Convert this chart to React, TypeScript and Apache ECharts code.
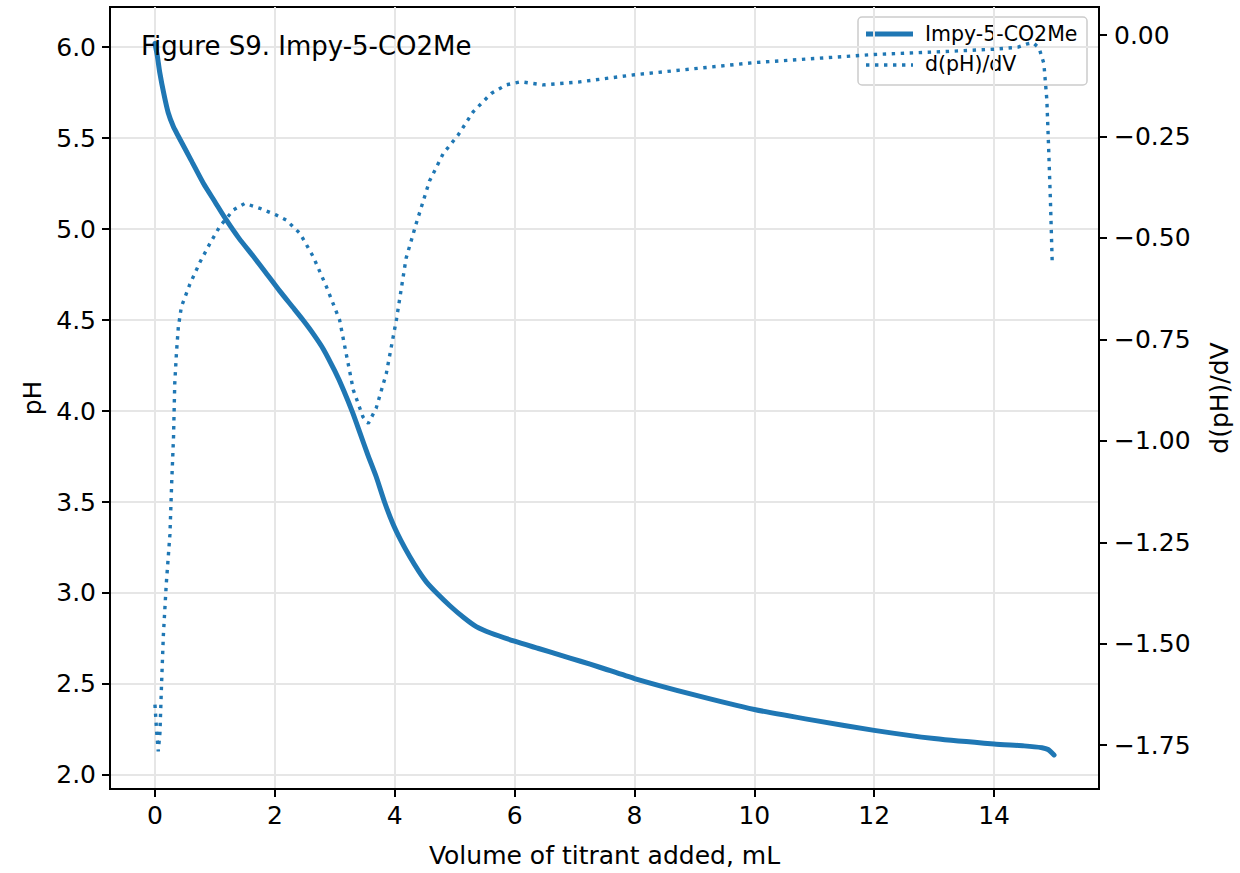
import React, { useEffect, useRef } from "react";
import * as echarts from "echarts";

const volumePH = [0, 0.04, 0.08, 0.15, 0.22, 0.31, 0.39, 0.6, 0.81, 1.0, 1.19, 1.4, 1.64, 1.85, 2.08, 2.3, 2.47, 2.65, 2.81, 3.0, 3.14, 3.3, 3.42, 3.55, 3.69, 3.83, 3.97, 4.1, 4.25, 4.4, 4.53, 4.7, 4.92, 5.15, 5.36, 5.6, 6.0, 6.4, 6.75, 7.1, 7.42, 8, 9, 10, 11, 12, 13, 14, 14.5, 14.8, 14.9, 15.0];
const pHValues = [6.02, 5.95, 5.86, 5.74, 5.64, 5.56, 5.51, 5.38, 5.25, 5.15, 5.05, 4.95, 4.85, 4.76, 4.66, 4.57, 4.5, 4.42, 4.34, 4.22, 4.12, 3.99, 3.88, 3.76, 3.64, 3.5, 3.38, 3.29, 3.2, 3.12, 3.06, 3.0, 2.93, 2.865, 2.815, 2.78, 2.735, 2.695, 2.66, 2.625, 2.592, 2.53, 2.44, 2.36, 2.3, 2.245, 2.2, 2.17, 2.16, 2.15, 2.14, 2.11];

const volumeDeriv = [0, 0.03, 0.055, 0.083, 0.11, 0.14, 0.19, 0.25, 0.28, 0.31, 0.33, 0.36, 0.39, 0.44, 0.58, 0.75, 0.92, 1.08, 1.31, 1.5, 1.75, 2.03, 2.19, 2.42, 2.64, 2.86, 3.08, 3.19, 3.31, 3.47, 3.56, 3.69, 3.86, 4.03, 4.19, 4.36, 4.58, 4.81, 5.06, 5.31, 5.61, 5.86, 6.1, 6.47, 7.06, 8, 9, 10, 11, 12, 13, 14, 14.4, 14.55, 14.65, 14.75, 14.83, 14.88, 14.91, 14.94, 14.97];
const derivValues = [-1.65, -1.72, -1.765, -1.72, -1.6, -1.48, -1.35, -1.23, -1.1, -0.99, -0.86, -0.78, -0.72, -0.67, -0.615, -0.56, -0.513, -0.472, -0.431, -0.415, -0.427, -0.444, -0.456, -0.489, -0.546, -0.62, -0.702, -0.785, -0.875, -0.941, -0.957, -0.92, -0.834, -0.7, -0.55, -0.464, -0.36, -0.292, -0.246, -0.189, -0.144, -0.123, -0.115, -0.123, -0.116, -0.098, -0.083, -0.068, -0.058, -0.048, -0.042, -0.035, -0.03, -0.022, -0.019, -0.032, -0.07, -0.16, -0.28, -0.41, -0.563];

const xTicks = [0, 2, 4, 6, 8, 10, 12, 14];
const pHTicks = [2.0, 2.5, 3.0, 3.5, 4.0, 4.5, 5.0, 5.5, 6.0];
const derivTicks = [-1.75, -1.5, -1.25, -1.0, -0.75, -0.5, -0.25, 0.0];

const seriesNames = ["Impy-5-CO2Me", "d(pH)/dV"];
const titleText = "Figure S9. Impy-5-CO2Me";
const xName = "Volume of titrant added, mL";
const yLeftName = "pH";
const yRightName = "d(pH)/dV";

const FONT = "DejaVu Sans";
const BLUE = "#1f77b4";
const DOT = [3.4, 5.6];

export default function App() {
  const ref = useRef<HTMLDivElement>(null);
  useEffect(() => {
    if (!ref.current) return;
    const chart = echarts.init(ref.current, undefined, { renderer: "svg" });
    const phData = volumePH.map((v, i) => [v, pHValues[i]]);
    const dData = volumeDeriv.map((v, i) => [v, derivValues[i]]);
    const axisLine = { show: true, onZero: false, lineStyle: { color: "#000", width: 2 } };
    const axisTick = { show: true, length: 8, lineStyle: { color: "#000", width: 2 } };
    chart.setOption({
      animation: false,
      textStyle: { fontFamily: FONT },
      grid: {
        left: 110,
        right: 140,
        top: 7,
        bottom: 84,
        show: true,
        borderColor: "#000",
        borderWidth: 2,
        backgroundColor: "transparent",
      },
      graphic: [
        {
          type: "text",
          left: 141,
          top: 33,
          z: 10,
          style: { text: titleText, fontFamily: FONT, fontSize: 26, fill: "#000" },
        },
        {
          type: "group",
          z: 20,
          children: [
            {
              type: "rect",
              shape: { x: 858, y: 17, width: 229, height: 68, r: 4 },
              style: { fill: "rgba(255,255,255,0.8)", stroke: "#cccccc", lineWidth: 1.5 },
            },
            {
              type: "line",
              shape: { x1: 866, y1: 34, x2: 913, y2: 34 },
              style: { stroke: BLUE, lineWidth: 5 },
            },
            {
              type: "line",
              shape: { x1: 866, y1: 65, x2: 913, y2: 65 },
              style: { stroke: BLUE, lineWidth: 3.4, lineDash: DOT },
            },
            {
              type: "text",
              x: 925,
              y: 34,
              style: { text: seriesNames[0], fontFamily: FONT, fontSize: 20.5, fill: "#000", verticalAlign: "middle" },
            },
            {
              type: "text",
              x: 925,
              y: 64,
              style: { text: seriesNames[1], fontFamily: FONT, fontSize: 20.5, fill: "#000", verticalAlign: "middle" },
            },
          ],
        },
      ],
      xAxis: {
        type: "value",
        min: -0.75,
        max: 15.75,
        name: xName,
        nameLocation: "middle",
        nameGap: 54,
        nameTextStyle: { fontFamily: FONT, fontSize: 25, color: "#000" },
        axisLine,
        axisTick: { ...axisTick, customValues: xTicks },
        axisLabel: {
          customValues: xTicks,
          margin: 14,
          fontFamily: FONT,
          fontSize: 25,
          color: "#000",
          formatter: (v: number) => String(v),
        },
        splitLine: { show: true, lineStyle: { color: "#e6e6e6", width: 2 } },
      },
      yAxis: [
        {
          type: "value",
          position: "left",
          min: 1.923,
          max: 6.22,
          name: yLeftName,
          nameLocation: "middle",
          nameRotate: 90,
          nameGap: 62,
          nameTextStyle: { fontFamily: FONT, fontSize: 25, color: "#000" },
          axisLine,
          axisTick: { ...axisTick, customValues: pHTicks },
          axisLabel: {
            customValues: pHTicks,
            margin: 14,
            fontFamily: FONT,
            fontSize: 25,
            color: "#000",
            formatter: (v: number) => v.toFixed(1),
          },
          splitLine: { show: true, lineStyle: { color: "#e6e6e6", width: 2 } },
        },
        {
          type: "value",
          position: "right",
          min: -1.858,
          max: 0.069,
          name: yRightName,
          nameLocation: "middle",
          nameRotate: 90,
          nameGap: 108,
          nameTextStyle: { fontFamily: FONT, fontSize: 25, color: "#000" },
          axisLine,
          axisTick: { ...axisTick, customValues: derivTicks },
          axisLabel: {
            customValues: derivTicks,
            margin: 15,
            fontFamily: FONT,
            fontSize: 25,
            color: "#000",
            formatter: (v: number) => v.toFixed(2).replace("-", "\u2212"),
          },
          splitLine: { show: false },
        },
      ],
      series: [
        {
          name: seriesNames[0],
          type: "line",
          yAxisIndex: 0,
          data: phData,
          symbol: "none",
          showSymbol: false,
          smooth: 0.2,
          lineStyle: { color: BLUE, width: 5, cap: "round", join: "round" },
          itemStyle: { color: BLUE },
          z: 3,
        },
        {
          name: seriesNames[1],
          type: "line",
          yAxisIndex: 1,
          data: dData,
          symbol: "none",
          showSymbol: false,
          lineStyle: { color: BLUE, width: 3.4, type: DOT, cap: "butt" },
          itemStyle: { color: BLUE },
          z: 3,
        },
      ],
    });
    return () => chart.dispose();
  }, []);
  return (
    <div
      ref={ref}
      style={{ position: "absolute", left: 0, top: 0, width: 1240, height: 873, background: "#fff" }}
    />
  );
}
